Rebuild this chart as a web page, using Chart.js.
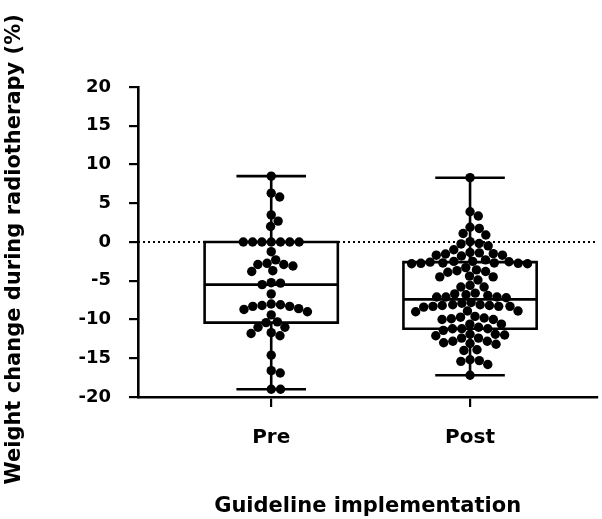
<!DOCTYPE html>
<html>
<head>
<meta charset="utf-8">
<script src="https://cdn.jsdelivr.net/npm/chart.js@4/dist/chart.umd.min.js"></script>
<style>
  html, body { margin: 0; padding: 0; background: #fff; }
  #wrap { width: 602px; height: 519px; position: relative; }
</style>
</head>
<body>
<div id="wrap"><canvas id="myChart"></canvas></div>
<script>
"use strict";

const CATEGORIES = ["Pre", "Post"];
const Y_TICKS = [-20, -15, -10, -5, 0, 5, 10, 15, 20];

// individual patients, weight change (%)
const PRE_VALUES = [8.5, 6.3, 5.8, 3.5, 2.7, 2.0,
    0, 0, 0, 0, 0, 0, 0,
    -1.25, -2.3, -2.9, -3.1, -2.9, -2.75, -3.8, -3.7,
    -5.25, -5.5, -5.3, -6.7,
    -8.0, -8.2, -8.3, -8.6, -9.0, -8.7, -8.3, -8.1, -9.4,
    -10.4, -10.3, -11.0, -11.8, -12.1, -11.7, -11.0,
    -14.6, -16.6, -16.9, -19.0, -19.0];

const POST_VALUES = [8.3, 3.9, 3.35, 1.9, 1.75, 1.1, 0.9, 0.05, -0.2, -0.5, -0.25,
    -1.0, -1.4, -1.5, -1.7, -1.8, -1.7, -1.55, -1.35,
    -2.5, -2.55, -2.6, -2.7, -2.8, -2.7, -2.3, -2.75, -2.8, -2.75, -2.5,
    -3.6, -3.7, -3.3, -3.8, -3.9,
    -4.4, -4.5, -4.5, -4.9,
    -5.6, -5.8, -5.8,
    -6.7, -6.9, -6.8, -6.6,
    -7.1, -7.2, -7.1, -7.1,
    -7.8, -8.1, -8.2, -8.3, -8.4, -8.3, -8.3, -8.2, -8.1, -7.9,
    -8.9, -9.0, -8.9,
    -9.6, -9.8, -10.0, -10.0, -9.9, -9.7,
    -10.6, -10.6,
    -11.2, -11.4, -11.2, -11.2, -11.0,
    -11.9, -12.1, -12.4, -12.4, -12.0, -11.9,
    -12.8, -13.0, -13.2, -12.8, -13.1,
    -14.0, -13.9,
    -15.2, -15.4, -15.8, -15.3,
    -17.2];

// box summary (Pre, Post)
const BOX_MIN = [-19.0, -17.2];
const BOX_Q1 = [-10.4, -11.2];
const BOX_MEDIAN = [-5.5, -7.4];
const BOX_Q3 = [0, -2.6];
const BOX_MAX = [8.5, 8.3];

const X_MIN = -0.67;
const X_MAX = 1.64;
const BOX_HALF = 0.335;
const CAP_HALF = 0.175;
const FONT = "'DejaVu Sans', Arial, sans-serif";

function boxLines(i)
{
    let gap = {x: i, y: null};
    let l = i - BOX_HALF, r = i + BOX_HALF;
    return [
        // box outline
        {x: l, y: BOX_Q3[i]}, {x: r, y: BOX_Q3[i]}, {x: r, y: BOX_Q1[i]},
        {x: l, y: BOX_Q1[i]}, {x: l, y: BOX_Q3[i]}, {x: r, y: BOX_Q3[i]}, gap,
        // median
        {x: l, y: BOX_MEDIAN[i]}, {x: r, y: BOX_MEDIAN[i]}, gap,
        // whiskers + caps
        {x: i, y: BOX_MAX[i]}, {x: i, y: BOX_Q3[i]}, gap,
        {x: i, y: BOX_Q1[i]}, {x: i, y: BOX_MIN[i]}, gap,
        {x: i - CAP_HALF, y: BOX_MAX[i]}, {x: i + CAP_HALF, y: BOX_MAX[i]}, gap,
        {x: i - CAP_HALF, y: BOX_MIN[i]}, {x: i + CAP_HALF, y: BOX_MIN[i]}, gap
    ];
}

// simple greedy beeswarm in pixel space
function swarm(values, idx, chart, diam)
{
    const xs = chart.scales.x, ys = chart.scales.y;
    const pxPerX = xs.getPixelForValue(1) - xs.getPixelForValue(0);
    let sorted = values.slice().sort((a, b) => b - a);
    let placed = [];
    sorted.forEach(v => {
        let py = ys.getPixelForValue(v);
        let near = placed.filter(p => Math.abs(p.py - py) < diam);
        let cands = [0];
        near.forEach(p => {
            let dx = Math.sqrt(diam * diam - (p.py - py) * (p.py - py));
            cands.push(p.dx + dx, p.dx - dx);
        });
        cands.sort((a, b) => Math.abs(a) - Math.abs(b));
        let best = cands.find(c => near.every(p => {
            let dy = p.py - py;
            return (c - p.dx) * (c - p.dx) + dy * dy >= diam * diam - 0.01;
        }));
        placed.push({v: v, py: py, dx: best});
    });
    return placed.map(p => ({x: idx + p.dx / pxPerX, y: p.v}));
}

const data = {
    datasets: [
        {
            type: 'scatter',
            label: 'Pre',
            data: PRE_VALUES.map(v => ({x: 0, y: v})),
            backgroundColor: '#000',
            borderColor: '#000',
            pointRadius: 4.7,
            borderWidth: 0,
            order: 0
        },
        {
            type: 'scatter',
            label: 'Post',
            data: POST_VALUES.map(v => ({x: 1, y: v})),
            backgroundColor: '#000',
            borderColor: '#000',
            pointRadius: 4.7,
            borderWidth: 0,
            order: 0
        },
        {
            type: 'line',
            data: boxLines(0).concat(boxLines(1)),
            borderColor: '#000',
            borderWidth: 2.6,
            borderJoinStyle: 'miter',
            pointRadius: 0,
            spanGaps: false,
            order: 1
        },
        {
            type: 'line',
            data: [{x: X_MIN, y: 0}, {x: X_MAX, y: 0}],
            borderColor: '#000',
            borderWidth: 2,
            borderDash: [2, 3],
            pointRadius: 0,
            order: 3
        }
    ]
};

const config = {
    type: 'scatter',
    data: data,
    options: {
        responsive: true,
        maintainAspectRatio: false,
        animation: false,
        events: [],
        layout: { padding: { top: 87, right: 2, left: 0, bottom: 0 } },
        plugins: { legend: { display: false }, tooltip: { enabled: false } },
        scales: {
            x: {
                type: 'linear',
                min: X_MIN,
                max: X_MAX,
                offset: false,
                afterBuildTicks: s => { s.ticks = [{value: 0}, {value: 1}]; },
                afterFit: s => { s.height = 122; },
                ticks: {
                    color: '#000',
                    padding: 19,
                    font: { family: FONT, size: 20, weight: 'bold' },
                    callback: v => CATEGORIES[v]
                },
                grid: { offset: false, drawOnChartArea: false, tickLength: 10, color: '#000', lineWidth: 2.2 },
                border: { color: '#000', width: 2.6 },
                title: {
                    display: true,
                    text: 'Guideline implementation',
                    color: '#000',
                    padding: { top: 0, bottom: 0 },
                    font: { family: FONT, size: 21, weight: 'bold' }
                }
            },
            y: {
                min: -20,
                max: 20,
                afterBuildTicks: s => { s.ticks = Y_TICKS.map(v => ({value: v})); },
                afterFit: s => { s.width = 138; },
                ticks: {
                    color: '#000',
                    padding: 18,
                    font: { family: FONT, size: 18, weight: 'bold' }
                },
                grid: { drawOnChartArea: false, tickLength: 9, color: '#000', lineWidth: 2.2 },
                border: { color: '#000', width: 2.6 },
                title: {
                    display: true,
                    text: 'Weight change during radiotherapy (%)  ',
                    color: '#000',
                    padding: { top: 2, bottom: 0 },
                    font: { family: FONT, size: 21, weight: 'bold' }
                }
            }
        }
    }
};

const myChart = new Chart(document.getElementById('myChart'), config);
myChart.data.datasets[0].data = swarm(PRE_VALUES, 0, myChart, 9.3);
myChart.data.datasets[1].data = swarm(POST_VALUES, 1, myChart, 9.3);
myChart.update('none');
</script>
</body>
</html>
